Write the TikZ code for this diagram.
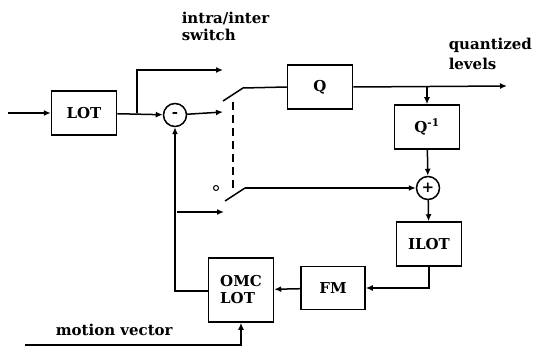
\documentclass[tikz,border=0pt]{standalone}
\usepackage{fontspec}
\setmainfont{DejaVu Serif}
\usetikzlibrary{arrows.meta}
\begin{document}
\begin{tikzpicture}[x=1pt, y=-1pt, line width=1.5pt, >={Latex[length=7pt,width=6pt]},
	every node/.style={font=\fontsize{15}{17}\selectfont\bfseries},
	blk/.style={draw, minimum width=65pt, minimum height=44pt, inner sep=0pt},
	sumnode/.style={draw, circle, minimum size=23pt, inner sep=0pt},
	lbl/.style={align=left, anchor=north west, inner sep=0pt}]
	\useasboundingbox (0,0) rectangle (534,347);
	
	% 1. 方框与求和点
	\node[blk] (lot) at (84,113) {LOT};
	\node[sumnode] (minus) at (175,115) {-};
	\node[blk] (q) at (320,87) {Q};
	\node[blk] (qinv) at (427,127) {Q\textsuperscript{-1}};
	\node[sumnode] (plus) at (428,188) {+};
	\node[blk] (ilot) at (429,244) {ILOT};
	\node[blk, minimum width=64pt, minimum height=43pt] (fm) at (333,288) {FM};
	\node[blk, minimum height=64pt, align=left] (omc) at (241,290) {OMC\\LOT};
	
	% 2. 辅助坐标 (开关触点)
	\coordinate (in) at (8,113);
	\coordinate (br1) at (137,113);
	\coordinate (sw) at (223,70);
	\coordinate (up) at (223,112);
	\coordinate (lo) at (224,212);
	\coordinate (br2) at (427,86);
	\coordinate (out) at (507,86);
	\coordinate (mv) at (25,345);
	
	% 3. 文字标签
	\node[lbl] (t1) at (181,11) {intra/inter\\switch};
	\node[lbl] (t2) at (448,37) {quantized\\[3pt]levels};
	\node[lbl] (t3) at (55,323) {motion vector};
	
	% 4. 连线
	\draw[->] (in) -- (lot);
	\draw[->] (lot) -- (minus);
	\draw[->] (br1) |- (sw);
	\draw[->] (minus) -- (up);
	\draw (223,101) -- (243,88) -- (q.west);
	\draw[->] (q.east) -- (out);
	\draw[->] (br2) -- (qinv);
	\draw[->] (qinv) -- (plus);
	\draw[->] (plus) -- (ilot);
	\draw[->] (ilot.south) |- (fm.east);
	\draw[->] (fm) -- (omc);
	\draw[->] (omc.west |- 0,291) -| (minus.south);
	\draw[->] (177,212) -- (lo);
	\draw (225,201) -- (245,188) -- ++(100,0);
	\draw[->] (245,188) -- (plus.west);
	\draw[->] (mv) -| (omc.south);
	
	% 5. 开关虚线与触点
	\draw[dashed, line width=1.3pt, dash pattern=on 8pt off 5pt] (233,102) -- (233,188);
	\draw[line width=1pt] (216,188) circle (2.5pt);
\end{tikzpicture}
\end{document}
